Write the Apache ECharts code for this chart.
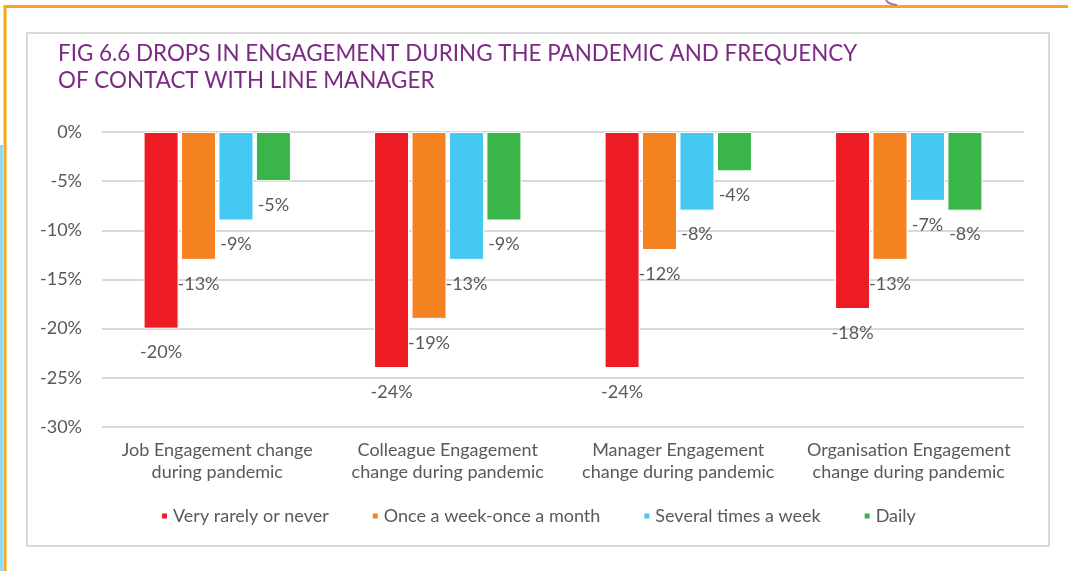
<!DOCTYPE html>
<html>
<head>
<meta charset="utf-8">
<script src="https://cdn.jsdelivr.net/npm/echarts@6/dist/echarts.min.js"></script>
<style>
  html, body { margin: 0; padding: 0; background: #fff; }
  #chart { width: 1068px; height: 571px; }
</style>
</head>
<body>
<div id="chart"></div>
<script>
// categories and series (values in %)
var categories = [
    'Job Engagement change\nduring pandemic',
    'Colleague Engagement\nchange during pandemic',
    'Manager Engagement\nchange during pandemic',
    'Organisation Engagement\nchange during pandemic'
];
var seriesNames = ['Very rarely or never', 'Once a week-once a month', 'Several times a week', 'Daily'];
var veryRarely = [-20, -24, -24, -18];
var onceAWeek = [-13, -19, -12, -13];
var severalTimes = [-9, -13, -8, -7];
var daily = [-5, -9, -4, -8];
var colors = ['#ED1C24', '#F58220', '#45C8F2', '#39B54A'];

var dom = document.getElementById('chart');
var myChart = echarts.init(dom);

function makeSeries(name, data) {
    return {
        name: name,
        type: 'bar',
        barWidth: 35,
        barGap: '7%',
        data: data,
        itemStyle: {
            borderColor: '#fff',
            borderWidth: 1
        },
        label: {
            show: true,
            position: 'bottom',
            distance: 15,
            formatter: '{c}%',
            color: '#595959',
            fontFamily: 'Lato',
            fontSize: 18
        }
    };
}

var option = {
    color: colors,
    animation: false,
    title: {
        text: 'FIG 6.6 DROPS IN ENGAGEMENT DURING THE PANDEMIC AND FREQUENCY\nOF CONTACT WITH LINE MANAGER',
        left: 58,
        top: 40,
        padding: 0,
        textStyle: {
            color: '#7B2B83',
            fontFamily: 'Lato',
            fontWeight: 'normal',
            fontSize: 22.4,
            lineHeight: 27
        }
    },
    legend: {
        bottom: 41,
        left: 155,
        itemWidth: 7,
        itemHeight: 7,
        itemGap: 42,
        icon: 'rect',
        textStyle: {
            color: '#595959',
            fontFamily: 'Lato',
            fontSize: 18
        },
        data: seriesNames
    },
    grid: {
        left: 102,
        right: 44,
        top: 132,
        bottom: 144
    },
    xAxis: {
        type: 'category',
        data: categories,
        axisLine: { show: false },
        axisTick: { show: false },
        axisLabel: {
            color: '#595959',
            fontFamily: 'Lato',
            fontSize: 18,
            lineHeight: 22,
            margin: 12,
            interval: 0
        }
    },
    yAxis: {
        type: 'value',
        min: -30,
        max: 0,
        interval: 5,
        axisLine: { show: false },
        axisTick: { show: false },
        axisLabel: {
            formatter: '{value}%',
            color: '#595959',
            fontFamily: 'Lato',
            fontSize: 18,
            margin: 20
        },
        splitLine: {
            lineStyle: { color: '#d9d9d9', width: 2 }
        }
    },
    graphic: [
        // outer orange frame
        { type: 'rect', shape: { x: 0, y: 145, width: 3, height: 426 }, style: { fill: '#8FD8F5' }, silent: true },
        { type: 'line', shape: { x1: 5, y1: 6.5, x2: 1068, y2: 6.5 }, style: { stroke: '#F9A61A', lineWidth: 3 }, silent: true },
        { type: 'line', shape: { x1: 5, y1: 5, x2: 5, y2: 571 }, style: { stroke: '#F9A61A', lineWidth: 3 }, silent: true },
        { type: 'bezierCurve', shape: { x1: 886, y1: 0, cpx1: 888, cpy1: 4, x2: 897, y2: 5 }, style: { stroke: '#A873AE', lineWidth: 2, fill: null }, silent: true },
        // gray chart frame
        { type: 'rect', shape: { x: 27, y: 33, width: 1022, height: 513 }, style: { fill: null, stroke: '#d9d9d9', lineWidth: 2 }, silent: true, z: -1 }
    ],
    series: [
        makeSeries(seriesNames[0], veryRarely),
        makeSeries(seriesNames[1], onceAWeek),
        makeSeries(seriesNames[2], severalTimes),
        makeSeries(seriesNames[3], daily)
    ]
};

myChart.setOption(option, true);
</script>
</body>
</html>
